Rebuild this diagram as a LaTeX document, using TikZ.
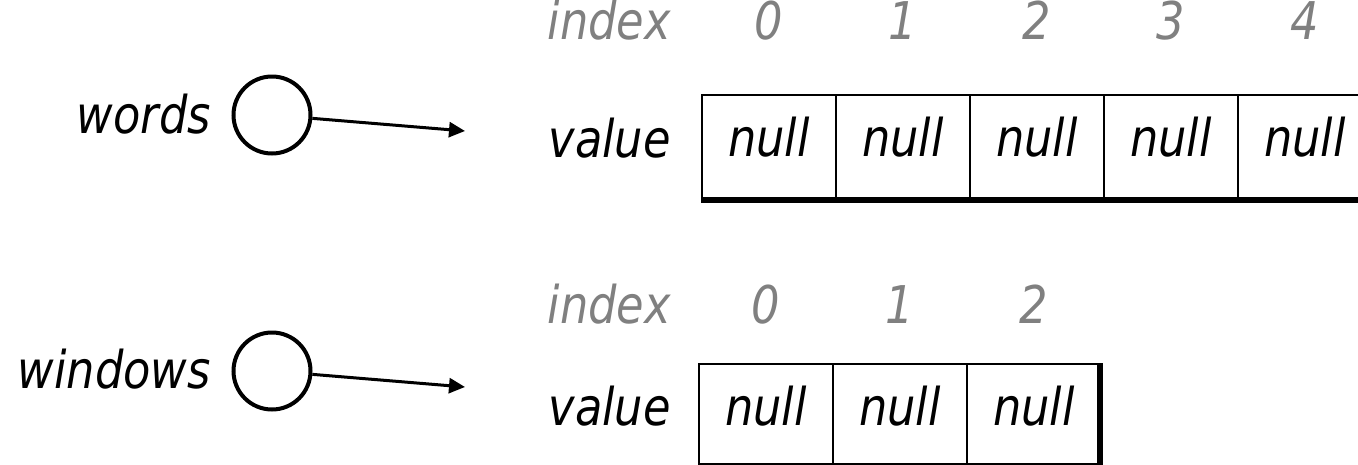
\documentclass[tikz,border=0pt]{standalone}
\usepackage{fontspec}
\setmainfont{DejaVu Sans}[FakeStretch=0.86]
\usetikzlibrary{arrows.meta}
\definecolor{idxgray}{RGB}{128,128,128}

\begin{document}
\begin{tikzpicture}[x=1pt,y=-1pt,
  txt/.style={font=\fontsize{52}{56}\selectfont\itshape, inner sep=0pt},
  idx/.style={txt, text=idxgray},
  num/.style={idx, anchor=base},
  cellbox/.style={draw, line width=2pt, inner sep=0pt, anchor=north west},
  refvar/.style={draw, circle, line width=4pt, minimum size=77pt, inner sep=0pt},
  ptr/.style={line width=3pt, -{Triangle[length=16pt,width=15pt]}}]

\clip (0,0) rectangle (1358,464);

% ---- words: reference variable and its five-element array ----
\node[txt, anchor=base east] (wname) at (211,133) {words};
\node[refvar] (wref) at (272,115) {};
\coordinate (wtip) at (465,131);
\draw[ptr] (wref) -- (wtip);

\node[idx, anchor=base east] (widx) at (671,39) {index};
\node[txt, anchor=base east] (wval) at (671,157) {value};
\foreach \i/\x in {0/701,1/835,2/969,3/1103,4/1237}{
  \node[cellbox, minimum width=134pt, minimum height=103pt] (w\i) at (\x,94) {};
  \node[txt, anchor=base] (wn\i) at ([yshift=-62pt]w\i.north) {null};
  \node[num] (wi\i) at ([yshift=55pt]w\i.north) {\i};
}
\draw[line width=5pt] ([yshift=-1pt]w0.south west) -- ([yshift=-1pt]w4.south east);

% ---- windows: reference variable and its three-element array ----
\node[txt, anchor=base east] (vname) at (211,388) {windows};
\node[refvar] (vref) at (272,371) {};
\coordinate (vtip) at (465,387);
\draw[ptr] (vref) -- (vtip);

\node[idx, anchor=base east] (vidx) at (671,323) {index};
\node[txt, anchor=base east] (vval) at (671,425) {value};
\foreach \i/\x in {0/698,1/832,2/966}{
  \node[cellbox, minimum width=134pt, minimum height=100pt] (v\i) at (\x,363) {};
  \node[txt, anchor=base] (vn\i) at ([yshift=-62pt]v\i.north) {null};
  \node[num] (vi\i) at ([yshift=40pt]v\i.north) {\i};
}
\draw[line width=6pt] ([xshift=-2pt]v2.north east) -- ([xshift=-2pt]v2.south east);
\end{tikzpicture}
\end{document}
